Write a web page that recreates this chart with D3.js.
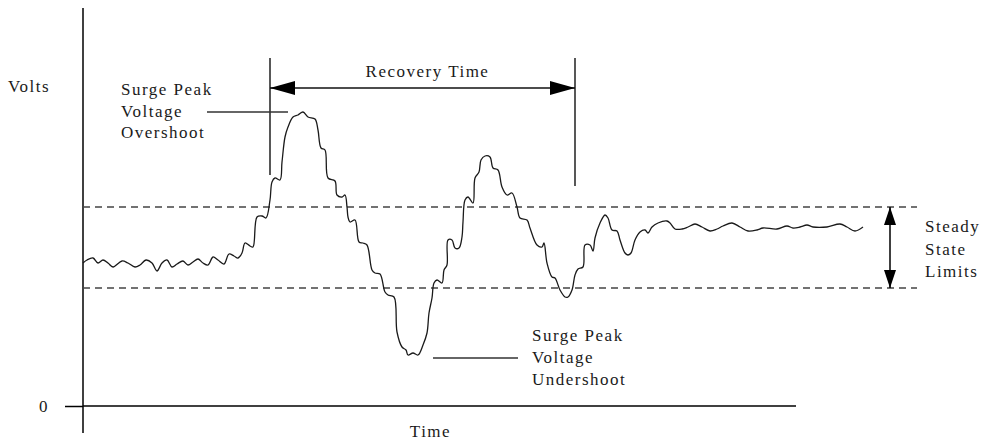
<!DOCTYPE html>
<html>
<head>
<meta charset="utf-8">
<script src="https://cdn.jsdelivr.net/npm/d3@7"></script>
<style>
  body { margin: 0; background: #fff; }
  text { font-family: 'Liberation Serif', 'Times New Roman', serif; font-size: 17px; letter-spacing: 1.5px; fill: #1a1a1a; }
</style>
</head>
<body>
<div id="chart"></div>
<script>
// Voltage surge / recovery diagram ///////////////////////////////////////////

var width = 982;
var height = 442;

// data ///////////////////////////////////////////////////////////////////////

// time (arbitrary units) and volts (arbitrary units)
var timeValues = [0, 4, 10, 15, 20, 25, 30, 39, 45, 52, 57, 63, 69, 74, 79, 84, 89, 94, 100, 105,
  110, 115, 120, 125, 130, 135, 141, 146, 151, 155, 159, 162, 167, 170, 174, 179, 183, 187, 189, 192,
  197, 199, 202, 205, 210, 215, 220, 225, 232, 235, 238, 242, 245, 252, 254, 259, 262, 264, 265, 267,
  272, 276, 280, 284, 289, 292, 297, 302, 305, 311, 314, 319, 323, 325, 330, 335, 340, 344, 346, 349,
  351, 354, 359, 361, 364, 365, 369, 372, 376, 379, 380, 382, 385, 390, 392, 396, 398, 402, 407, 410,
  415, 419, 424, 429, 434, 437, 444, 447, 454, 459, 461, 464, 469, 472, 477, 482, 485, 489, 492, 495,
  500, 502, 507, 510, 512, 517, 522, 525, 529, 534, 537, 542, 545, 548, 552, 557, 562, 565, 569, 575,
  584, 587, 592, 599, 605, 612, 619, 627, 634, 640, 649, 657, 665, 674, 680, 694, 704, 710, 717, 724,
  730, 744, 757, 764, 772, 780];

var voltValues = [143, 146, 148, 143, 146, 143, 139, 145, 143, 139, 141, 146, 143, 135, 143, 146, 139, 142, 145, 141,
  144, 147, 143, 141, 149, 146, 142, 152, 150, 148, 153, 163, 160, 159, 189, 190, 188, 206, 224, 228,
  226, 244, 269, 279, 289, 291, 294, 289, 287, 276, 258, 256, 228, 225, 211, 209, 211, 199, 189, 184,
  186, 164, 163, 161, 136, 133, 132, 114, 111, 109, 74, 59, 56, 51, 53, 51, 61, 73, 93, 108,
  123, 126, 123, 136, 141, 166, 166, 158, 158, 169, 184, 206, 209, 203, 228, 234, 246, 250, 249, 238,
  236, 219, 211, 213, 199, 188, 186, 178, 161, 159, 163, 143, 129, 128, 116, 109, 109, 116, 131, 137,
  139, 161, 161, 155, 168, 183, 191, 188, 176, 175, 166, 153, 151, 153, 166, 174, 176, 173, 179, 183,
  185, 183, 177, 177, 179, 182, 179, 175, 177, 180, 183, 179, 175, 176, 178, 177, 180, 178, 179, 181,
  179, 179, 182, 179, 175, 179];

var steadyLimits = [118, 199];          // lower, upper
var recoveryWindow = [187, 492];        // start, end of recovery time
var overshootPoint = [220, 294];        // time, volts
var undershootPoint = [330, 51];

var overshootLabel = ['Surge Peak', 'Voltage', 'Overshoot'];
var undershootLabel = ['Surge Peak', 'Voltage', 'Undershoot'];
var steadyLabel = ['Steady', 'State', 'Limits'];

// scales /////////////////////////////////////////////////////////////////////

var x = d3.scaleLinear().domain([0, 780]).range([83, 863]);
var y = d3.scaleLinear().domain([0, 396]).range([406, 10]);

var svg = d3.select('#chart').append('svg')
  .attr('width', width)
  .attr('height', height);

// arrowheads
var defs = svg.append('defs');
defs.append('marker')
  .attr('id', 'head')
  .attr('viewBox', '0 0 25 14')
  .attr('refX', 25)
  .attr('refY', 7)
  .attr('markerWidth', 25)
  .attr('markerHeight', 14)
  .attr('markerUnits', 'userSpaceOnUse')
  .attr('orient', 'auto-start-reverse')
  .append('path')
  .attr('d', 'M0,0L25,7L0,14Z')
  .style('fill', '#000');

defs.append('marker')
  .attr('id', 'headSmall')
  .attr('viewBox', '0 0 18 12')
  .attr('refX', 18)
  .attr('refY', 6)
  .attr('markerWidth', 18)
  .attr('markerHeight', 12)
  .attr('markerUnits', 'userSpaceOnUse')
  .attr('orient', 'auto-start-reverse')
  .append('path')
  .attr('d', 'M0,0L18,6L0,12Z')
  .style('fill', '#000');

// axes ///////////////////////////////////////////////////////////////////////

svg.append('line')
  .attr('x1', x(0)).attr('x2', x(0))
  .attr('y1', y(398)).attr('y2', y(-27))
  .style('stroke', '#000').style('stroke-width', 1.5);

svg.append('line')
  .attr('x1', x(0)).attr('x2', x(713))
  .attr('y1', y(0)).attr('y2', y(0))
  .style('stroke', '#000').style('stroke-width', 1.5);

var yAxis = svg.append('g')
  .attr('transform', 'translate(' + x(0) + ',0)')
  .call(d3.axisLeft(y).tickValues([0]).tickSize(18).tickPadding(16).tickSizeOuter(0));
yAxis.select('.domain').remove();
yAxis.selectAll('line').style('stroke', '#000').style('stroke-width', 1.5);
yAxis.selectAll('text')
  .attr('font-family', null).attr('font-size', null)
  .style('fill', '#1a1a1a');

svg.append('text')
  .attr('x', 8).attr('y', 92)
  .text('Volts');

svg.append('text')
  .attr('x', (x(-18) + x(713)) / 2).attr('y', 437)
  .attr('text-anchor', 'middle')
  .text('Time');

// steady state limits ////////////////////////////////////////////////////////

svg.append('g').selectAll('line')
  .data(steadyLimits)
  .enter().append('line')
  .attr('x1', x(0))
  .attr('x2', x(834))
  .attr('y1', function(d){ return y(d); })
  .attr('y2', function(d){ return y(d); })
  .style('stroke', '#444')
  .style('stroke-width', 1.4)
  .style('stroke-dasharray', '7,5');

svg.append('line')
  .attr('x1', x(807)).attr('x2', x(807))
  .attr('y1', y(steadyLimits[0])).attr('y2', y(steadyLimits[1]))
  .attr('marker-start', 'url(#headSmall)')
  .attr('marker-end', 'url(#headSmall)')
  .style('stroke', '#000').style('stroke-width', 1.5);

svg.append('g').selectAll('text')
  .data(steadyLabel)
  .enter().append('text')
  .attr('x', 925)
  .attr('y', function(d, i){ return 232 + i * 22.5; })
  .text(function(d){ return d; });

// waveform ///////////////////////////////////////////////////////////////////

var trace = d3.line()
  .x(function(d){ return x(d[0]); })
  .y(function(d){ return y(d[1]); })
  .curve(d3.curveCatmullRom.alpha(0.5));

svg.append('path')
  .datum(d3.zip(timeValues, voltValues))
  .attr('d', trace)
  .style('fill', 'none')
  .style('stroke', '#1a1a1a')
  .style('stroke-width', 1.3);

// recovery time //////////////////////////////////////////////////////////////

svg.append('g').selectAll('line')
  .data([[recoveryWindow[0], 175], [recoveryWindow[1], 186]])
  .enter().append('line')
  .attr('x1', function(d){ return x(d[0]); })
  .attr('x2', function(d){ return x(d[0]); })
  .attr('y1', 58)
  .attr('y2', function(d){ return d[1]; })
  .style('stroke', '#111').style('stroke-width', 1.4);

svg.append('line')
  .attr('x1', x(recoveryWindow[0])).attr('x2', x(recoveryWindow[1]))
  .attr('y1', 88).attr('y2', 88)
  .attr('marker-start', 'url(#head)')
  .attr('marker-end', 'url(#head)')
  .style('stroke', '#111').style('stroke-width', 1.3);

svg.append('text')
  .attr('x', (x(recoveryWindow[0]) + x(recoveryWindow[1])) / 2 + 5)
  .attr('y', 77)
  .attr('text-anchor', 'middle')
  .text('Recovery Time');

// overshoot / undershoot labels //////////////////////////////////////////////

svg.append('line')
  .attr('x1', 207).attr('x2', x(overshootPoint[0]) - 15)
  .attr('y1', y(overshootPoint[1])).attr('y2', y(overshootPoint[1]))
  .style('stroke', '#333').style('stroke-width', 1.3);

svg.append('g').selectAll('text')
  .data(overshootLabel)
  .enter().append('text')
  .attr('x', 121)
  .attr('y', function(d, i){ return 95 + i * 21.5; })
  .text(function(d){ return d; });

svg.append('line')
  .attr('x1', x(undershootPoint[0]) + 20).attr('x2', 518)
  .attr('y1', y(undershootPoint[1]) + 3).attr('y2', y(undershootPoint[1]) + 3)
  .style('stroke', '#333').style('stroke-width', 1.3);

svg.append('g').selectAll('text')
  .data(undershootLabel)
  .enter().append('text')
  .attr('x', 532)
  .attr('y', function(d, i){ return 341 + i * 22; })
  .text(function(d){ return d; });
</script>
</body>
</html>
